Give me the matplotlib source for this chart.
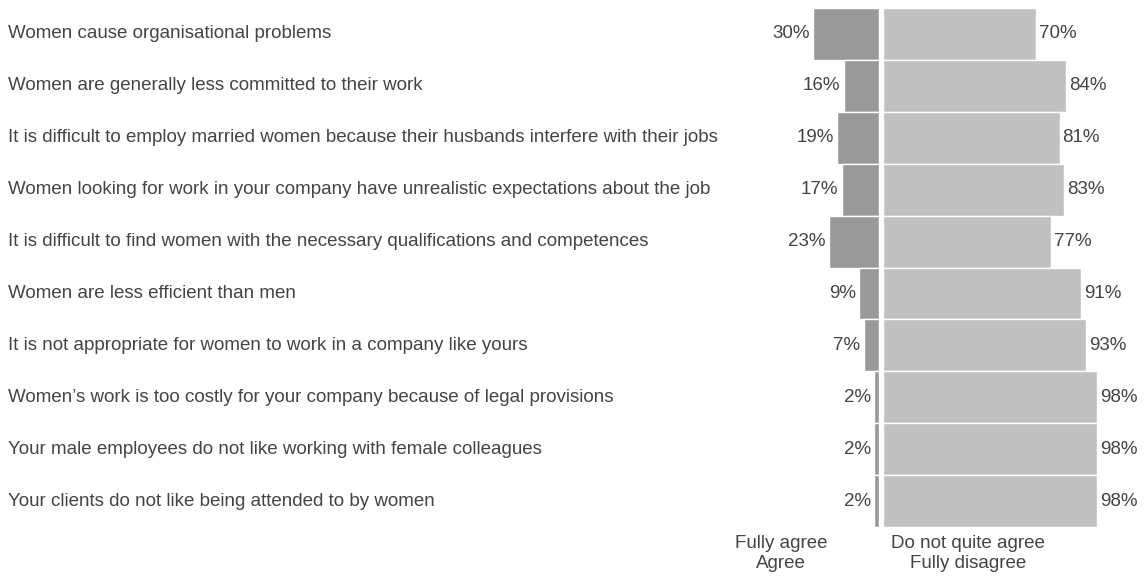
import matplotlib
matplotlib.use("Agg")
import matplotlib.pyplot as plt
from matplotlib.transforms import blended_transform_factory

statements = [
    "Women cause organisational problems",
    "Women are generally less committed to their work",
    "It is difficult to employ married women because their husbands interfere with their jobs",
    "Women looking for work in your company have unrealistic expectations about the job",
    "It is difficult to find women with the necessary qualifications and competences",
    "Women are less efficient than men",
    "It is not appropriate for women to work in a company like yours",
    "Women\u2019s work is too costly for your company because of legal provisions",
    "Your male employees do not like working with female colleagues",
    "Your clients do not like being attended to by women",
]
agree = [30, 16, 19, 17, 23, 9, 7, 2, 2, 2]
disagree = [70, 84, 81, 83, 77, 91, 93, 98, 98, 98]

AGREE_COLOR = "#999999"
DISAGREE_COLOR = "#c0c0c0"
TEXT_COLOR = "#444444"
FONT = "Liberation Sans"
FS = 13.5
GAP = 0.9  # half-gap around the centre line, in percentage points

W, H = 1148, 576
fig = plt.figure(figsize=(W / 100, H / 100), dpi=100)
ax = fig.add_axes([739 / W, 1 - 527 / H, (1147 - 739) / W, (527 - 8) / H])
ax.set_xlim(-65, 122)
ax.set_ylim(len(statements) - 0.5, -0.5)
ax.axis("off")

y = list(range(len(statements)))
ax.barh(y, [-v for v in agree], left=-GAP, height=1.0, color=AGREE_COLOR,
        edgecolor="white", linewidth=1)
ax.barh(y, disagree, left=GAP, height=1.0, color=DISAGREE_COLOR,
        edgecolor="white", linewidth=1)

style = dict(fontsize=FS, color=TEXT_COLOR, family=FONT)

for i, (a, d) in enumerate(zip(agree, disagree)):
    ax.text(-GAP - a - 1.6, i, f"{a}%", ha="right", va="center", **style)
    ax.text(GAP + d + 1.4, i, f"{d}%", ha="left", va="center", **style)

tr = blended_transform_factory(fig.transFigure, ax.transData)
for i, s in enumerate(statements):
    ax.text(8 / W, i, s, transform=tr, ha="left", va="center", **style)

for yy, left_txt, right_txt in [(543, "Fully agree", "Do not quite agree"),
                                (563, "Agree", "Fully disagree")]:
    fig.text(781 / W, 1 - yy / H, left_txt, ha="center", va="center", **style)
    fig.text(968 / W, 1 - yy / H, right_txt, ha="center", va="center", **style)

fig.savefig("out.png", dpi=100, facecolor="white")
